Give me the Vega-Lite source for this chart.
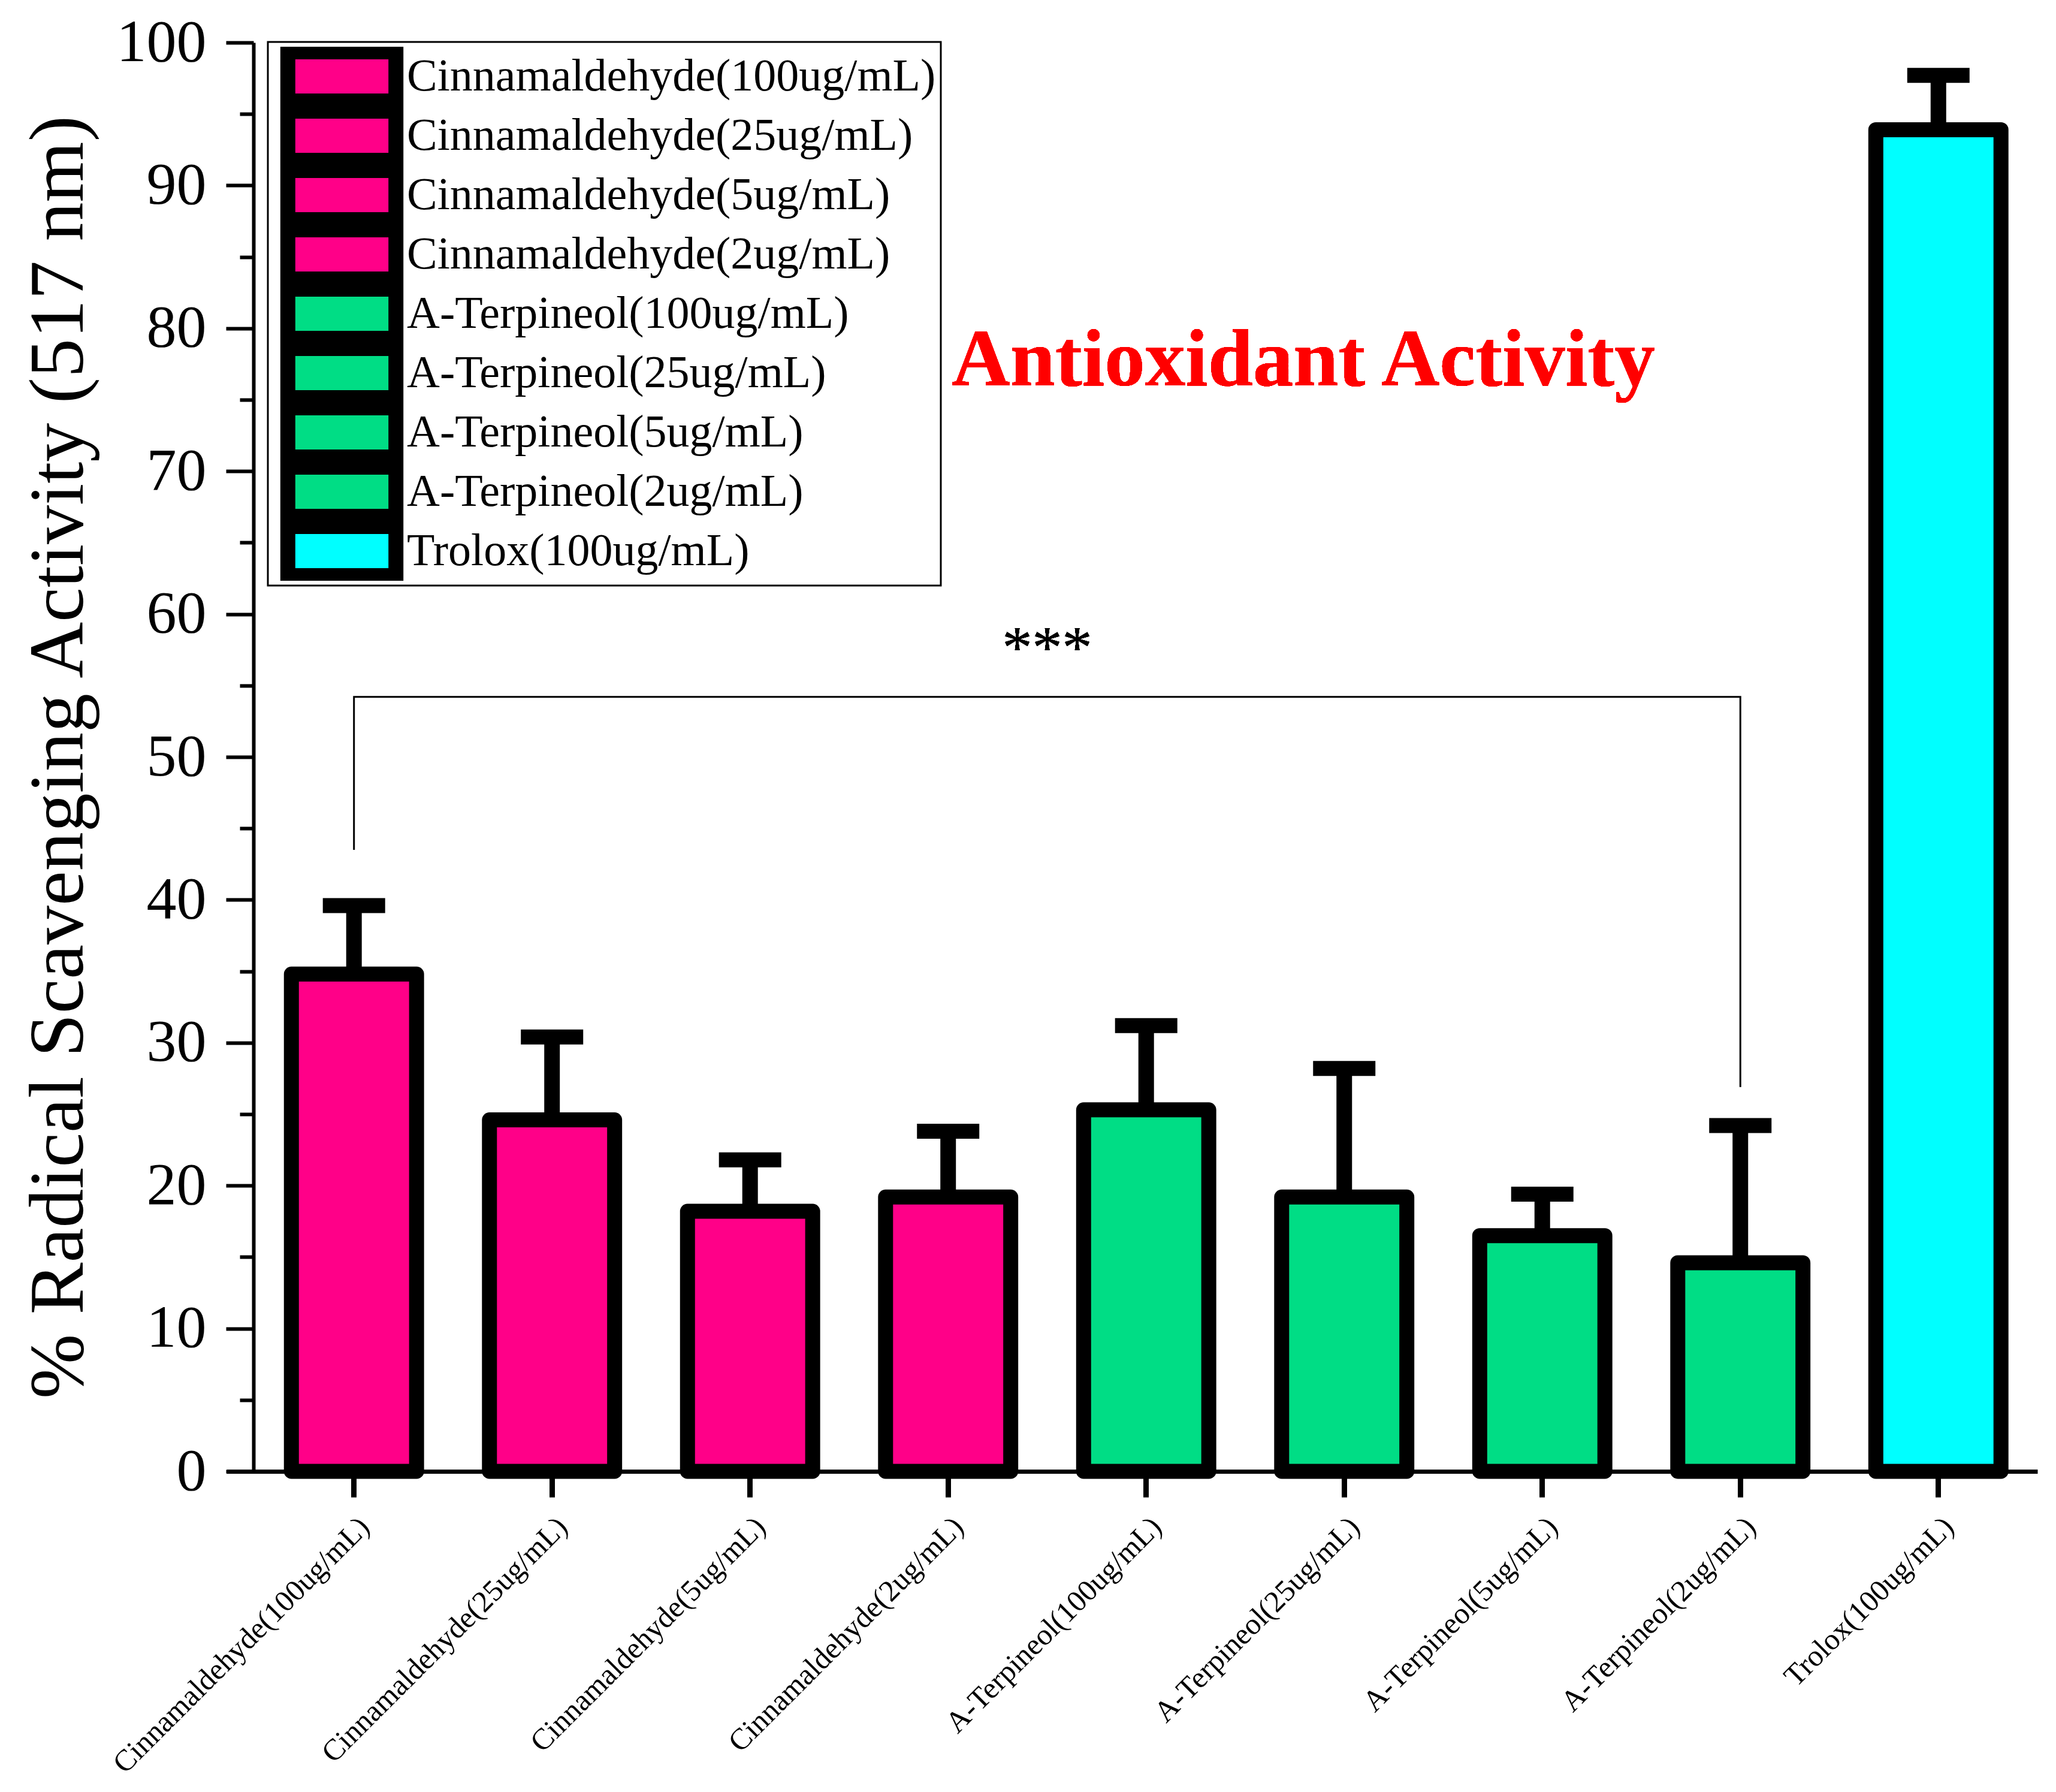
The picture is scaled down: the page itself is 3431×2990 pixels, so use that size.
{
  "$schema": "https://vega.github.io/schema/vega-lite/v6.json",
  "width": 3022,
  "height": 2384,
  "autosize": "none",
  "padding": {"left": 378, "top": 71, "right": 31, "bottom": 535},
  "background": "white",
  "config": {
    "view": {"stroke": null},
    "font": "Liberation Serif",
    "legend": {"strokeWidth": 3}
  },
  "data": {
    "values": [
      {"name": "Cinnamaldehyde(100ug/mL)", "value": 34.8, "upper": 39.6},
      {"name": "Cinnamaldehyde(25ug/mL)", "value": 24.6, "upper": 30.4},
      {"name": "Cinnamaldehyde(5ug/mL)", "value": 18.2, "upper": 21.8},
      {"name": "Cinnamaldehyde(2ug/mL)", "value": 19.2, "upper": 23.8},
      {"name": "A-Terpineol(100ug/mL)", "value": 25.3, "upper": 31.2},
      {"name": "A-Terpineol(25ug/mL)", "value": 19.2, "upper": 28.2},
      {"name": "A-Terpineol(5ug/mL)", "value": 16.5, "upper": 19.4},
      {"name": "A-Terpineol(2ug/mL)", "value": 14.6, "upper": 24.2},
      {"name": "Trolox(100ug/mL)", "value": 93.9, "upper": 97.7}
    ]
  },
  "layer": [
    {
      "mark": {"type": "bar", "stroke": "black", "strokeWidth": 25, "strokeJoin": "round", "width": {"band": 0.632}},
      "encoding": {
        "x": {
          "field": "name",
          "type": "nominal",
          "sort": null,
          "title": null,
          "scale": {
            "domain": ["Cinnamaldehyde(100ug/mL)", "Cinnamaldehyde(25ug/mL)", "Cinnamaldehyde(5ug/mL)", "Cinnamaldehyde(2ug/mL)", "A-Terpineol(100ug/mL)", "A-Terpineol(25ug/mL)", "A-Terpineol(5ug/mL)", "A-Terpineol(2ug/mL)", "Trolox(100ug/mL)"],
            "paddingInner": 0,
            "paddingOuter": 0.0718,
            "align": 1
          },
          "axis": {
            "labelAngle": -45,
            "labelFont": "Liberation Serif",
            "labelFontSize": 50,
            "labelColor": "black",
            "labelLimit": 0,
            "labelPadding": 24,
            "tickSize": 43,
            "tickWidth": 9,
            "tickColor": "black",
            "domainColor": "black",
            "domainWidth": 7
          }
        },
        "y": {
          "field": "value",
          "type": "quantitative",
          "title": "% Radical Scavenging Activity (517 nm)",
          "scale": {"domain": [0, 100], "nice": false},
          "axis": {
            "offset": -45,
            "grid": false,
            "values": [0, 5, 10, 15, 20, 25, 30, 35, 40, 45, 50, 55, 60, 65, 70, 75, 80, 85, 90, 95, 100],
            "labelExpr": "datum.value % 10 === 0 ? datum.label : ''",
            "labelOverlap": false,
            "labelFont": "Liberation Serif",
            "labelFontSize": 100,
            "labelColor": "black",
            "labelPadding": 33,
            "tickSize": 46,
            "tickWidth": 6,
            "tickColor": "black",
            "tickDash": {"condition": {"test": "datum.value % 10 !== 0", "value": [23, 200]}, "value": []},
            "domainColor": "black",
            "domainWidth": 6,
            "titleFont": "Liberation Serif",
            "titleFontSize": 130,
            "titleFontWeight": "normal",
            "titleColor": "black",
            "titlePadding": 59
          }
        },
        "color": {
          "field": "name",
          "type": "nominal",
          "sort": null,
          "scale": {
            "domain": ["Cinnamaldehyde(100ug/mL)", "Cinnamaldehyde(25ug/mL)", "Cinnamaldehyde(5ug/mL)", "Cinnamaldehyde(2ug/mL)", "A-Terpineol(100ug/mL)", "A-Terpineol(25ug/mL)", "A-Terpineol(5ug/mL)", "A-Terpineol(2ug/mL)", "Trolox(100ug/mL)"],
            "range": ["#FF0088", "#FF0088", "#FF0088", "#FF0088", "#00DD85", "#00DD85", "#00DD85", "#00DD85", "#00FFFF"]
          },
          "legend": {
            "title": null,
            "orient": "none",
            "legendX": 69,
            "legendY": -1,
            "symbolType": "M-2.2,-1H2.2V1H-2.2Z",
            "symbolSize": 6724,
            "symbolStrokeColor": "black",
            "symbolStrokeWidth": 25,
            "symbolOpacity": 1,
            "symbolOffset": 62,
            "labelOffset": 55,
            "labelFont": "Liberation Serif",
            "labelFontSize": 76,
            "labelColor": "black",
            "labelLimit": 0,
            "clipHeight": 99,
            "rowPadding": 0,
            "padding": 8,
            "strokeColor": "black",
            "fillColor": "white"
          }
        }
      }
    },
    {
      "mark": {"type": "rule", "color": "black", "strokeWidth": 26},
      "encoding": {
        "x": {"field": "name", "type": "nominal", "sort": null},
        "y": {"field": "value", "type": "quantitative", "title": "% Radical Scavenging Activity (517 nm)"},
        "y2": {"field": "upper"}
      }
    },
    {
      "mark": {"type": "tick", "color": "black", "opacity": 1, "size": 104, "thickness": 25},
      "encoding": {
        "x": {"field": "name", "type": "nominal", "sort": null},
        "y": {"field": "upper", "type": "quantitative", "title": "% Radical Scavenging Activity (517 nm)"}
      }
    },
    {
      "data": {
        "values": [
          {"name": "Cinnamaldehyde(100ug/mL)", "v": 43.5, "o": 1},
          {"name": "Cinnamaldehyde(100ug/mL)", "v": 54.2, "o": 2},
          {"name": "A-Terpineol(2ug/mL)", "v": 54.2, "o": 3},
          {"name": "A-Terpineol(2ug/mL)", "v": 26.9, "o": 4}
        ]
      },
      "mark": {"type": "line", "color": "black", "strokeWidth": 3},
      "encoding": {
        "x": {"field": "name", "type": "nominal", "sort": null},
        "y": {"field": "v", "type": "quantitative", "title": "% Radical Scavenging Activity (517 nm)"},
        "order": {"field": "o", "type": "quantitative"}
      }
    },
    {
      "mark": {"type": "text", "text": "***", "font": "Liberation Serif", "fontSize": 100, "color": "black", "align": "center", "baseline": "alphabetic"},
      "encoding": {
        "x": {"datum": "Cinnamaldehyde(2ug/mL)", "bandPosition": 1},
        "y": {"datum": 56.3}
      }
    },
    {
      "mark": {"type": "text", "text": "Antioxidant Activity", "font": "Liberation Serif", "fontSize": 135, "fontWeight": "bold", "color": "#FF0000", "align": "center", "baseline": "alphabetic"},
      "encoding": {
        "x": {"datum": "A-Terpineol(25ug/mL)", "bandPosition": 0.294},
        "y": {"datum": 76}
      }
    }
  ]
}
